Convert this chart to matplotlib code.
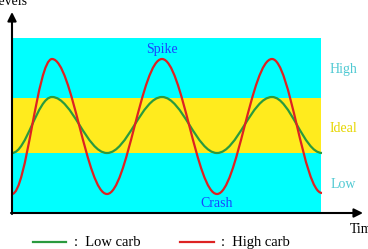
import matplotlib
matplotlib.use("Agg")
import matplotlib.pyplot as plt
from matplotlib.path import Path
from matplotlib.patches import PathPatch, Rectangle

# extrema of the two curves (time, level)
turn_times = [0, 4, 9.5, 15, 20.5, 26, 31]
high_carb = [1.9, 15.4, 1.9, 15.4, 1.9, 15.4, 2.0]
low_carb = [6.0, 11.6, 6.0, 11.6, 6.0, 11.6, 6.0]

# background zones
zone_names = ["Low", "Ideal", "High"]
zone_bounds = [0, 6.0, 11.5, 17.5]
zone_colors = ["#00ffff", "#ffeb1e", "#00ffff"]
label_colors = ["#4fc9d2", "#e6d600", "#4fc9d2"]
time_end = 30.9


def wave_path(tx, ty):
    """ smooth path through extrema, flat tangent at each turning point """
    verts = [(tx[0], ty[0])]
    codes = [Path.MOVETO]
    for i in range(1, len(tx)):
        dx = tx[i] - tx[i - 1]
        verts += [(tx[i - 1] + 0.364 * dx, ty[i - 1]),
                  (tx[i] - 0.364 * dx, ty[i]),
                  (tx[i], ty[i])]
        codes += [Path.CURVE4] * 3
    return Path(verts, codes)


plt.rcParams["font.family"] = ["Liberation Serif", "DejaVu Serif"]
fig = plt.figure(figsize=(3.68, 2.49), dpi=100)
ax = fig.add_axes([0, 0, 1, 1])
ax.set_xlim(-1.2, 35.6)
ax.set_ylim(-3.6, 21.3)
ax.axis("off")

for i in range(3):
    ax.add_patch(Rectangle((0, zone_bounds[i]), time_end,
                           zone_bounds[i + 1] - zone_bounds[i],
                           color=zone_colors[i], lw=0, zorder=1))

ax.add_patch(PathPatch(wave_path(turn_times, low_carb), fill=False,
                       edgecolor="#2a9a3e", lw=1.6, zorder=3))
ax.add_patch(PathPatch(wave_path(turn_times, high_carb), fill=False,
                       edgecolor="#dd2222", lw=1.6, zorder=3))

# axes with arrow heads
arrow = dict(arrowstyle="-|>", color="black", lw=1.5,
             mutation_scale=13, shrinkA=0, shrinkB=0)
ax.annotate("", xy=(0, 20.1), xytext=(0, -0.1), arrowprops=arrow, zorder=5)
ax.annotate("", xy=(35.1, 0), xytext=(-0.1, 0), arrowprops=arrow, zorder=5)
ax.text(-0.3, 20.8, "Levels", ha="center", va="baseline", fontsize=10)
ax.text(33.8, -2.0, "Time", ha="left", va="baseline", fontsize=10)

ax.text(15.0, 16.0, "Spike", ha="center", va="baseline", fontsize=10,
        color="#1a44ff", zorder=4)
ax.text(20.5, 0.6, "Crash", ha="center", va="baseline", fontsize=10,
        color="#1a44ff", zorder=4)

label_y = [2.5, 8.1, 14.0]
for name, y, c in zip(zone_names, label_y, label_colors):
    ax.text(33.1, y, name, ha="center", va="baseline", fontsize=10, color=c)

# hand-made legend
ax.plot([2.1, 5.4], [-2.9, -2.9], color="#2a9a3e", lw=1.6)
ax.text(6.2, -2.9, ":  Low carb", va="center", fontsize=10.5)
ax.plot([16.8, 20.2], [-2.9, -2.9], color="#dd2222", lw=1.6)
ax.text(20.9, -2.9, ":  High carb", va="center", fontsize=10.5)

fig.savefig("out.png", dpi=100, facecolor="white")
